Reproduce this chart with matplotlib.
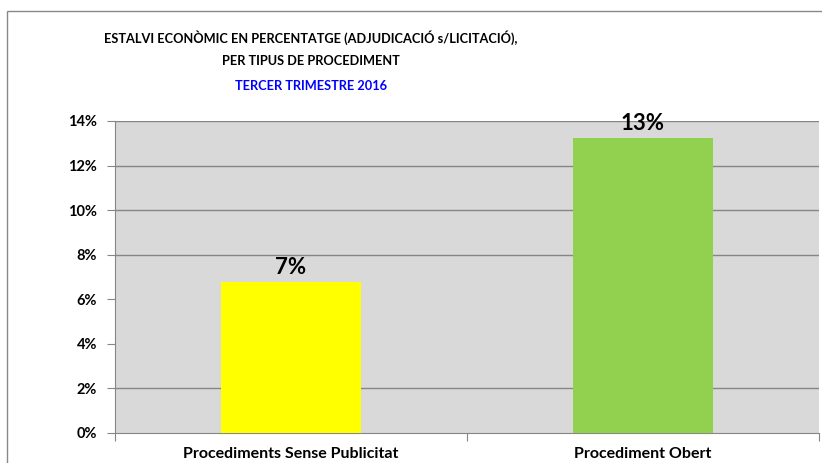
import matplotlib
matplotlib.use("Agg")
import matplotlib.pyplot as plt
from matplotlib.patches import Rectangle
from matplotlib.ticker import FuncFormatter

categories = ["Procediments Sense Publicitat", "Procediment Obert"]
savings_pct = [6.77, 13.23]
bar_labels = ["7%", "13%"]
bar_colors = ["#FFFF00", "#92D050"]
y_ticks = [0, 2, 4, 6, 8, 10, 12, 14]
grid_levels = [2, 8, 10, 12, 14]

plt.rcParams["font.family"] = ["Lato", "DejaVu Sans"]

W, H = 822, 463
fig = plt.figure(figsize=(W / 100, H / 100), dpi=100)

# outer chart border (right and bottom edges fall outside the image)
fig.patches.append(Rectangle((7 / W, 1 - 480 / H), 840 / W, 469 / H,
                             transform=fig.transFigure, fill=False,
                             edgecolor="#888888", lw=1.0))

ax = fig.add_axes([115 / W, 1 - 433 / H, 704 / W, 312 / H])
ax.set_facecolor("#D9D9D9")

x = range(len(categories))
ax.bar(x, savings_pct, width=0.40, color=bar_colors, zorder=3)
for xi, v, lab in zip(x, savings_pct, bar_labels):
    ax.text(xi, v + 0.2, lab, ha="center", va="bottom",
            fontsize=16, fontweight="bold", zorder=4)

for g in grid_levels:
    ax.axhline(g, color="#868686", lw=1.0, zorder=1)

ax.set_xlim(-0.5, len(categories) - 0.5)
ax.set_ylim(0, 14)
ax.set_yticks(y_ticks)
ax.yaxis.set_major_formatter(FuncFormatter(lambda v, p: f"{v:.0f}%"))
ax.tick_params(axis="y", length=6, color="#868686", labelsize=10.5, pad=7)
for t in ax.get_yticklabels():
    t.set_fontweight("bold")

ax.set_xticks([-0.5, 0.5, 1.5])
ax.set_xticklabels([])
ax.set_xticks(list(x), minor=True)
ax.set_xticklabels(categories, minor=True, fontsize=11.5, fontweight="bold")
ax.tick_params(axis="x", which="major", length=6, color="#868686")
ax.tick_params(axis="x", which="minor", length=0, pad=10)

for side in ["top", "right"]:
    ax.spines[side].set_visible(False)
for side in ["left", "bottom"]:
    ax.spines[side].set_color("#868686")

fig.text(311 / W, 1 - 38 / H,
         "ESTALVI ECONÒMIC EN PERCENTATGE (ADJUDICACIÓ s/LICITACIÓ),",
         ha="center", va="center", fontsize=9.2, fontweight="bold")
fig.text(311 / W, 1 - 61 / H, "PER TIPUS DE PROCEDIMENT",
         ha="center", va="center", fontsize=9.2, fontweight="bold")
fig.text(311 / W, 1 - 86 / H, "TERCER TRIMESTRE 2016",
         ha="center", va="center", fontsize=9.2, fontweight="bold",
         color="#0000FF")

fig.savefig("out.png", dpi=100)
